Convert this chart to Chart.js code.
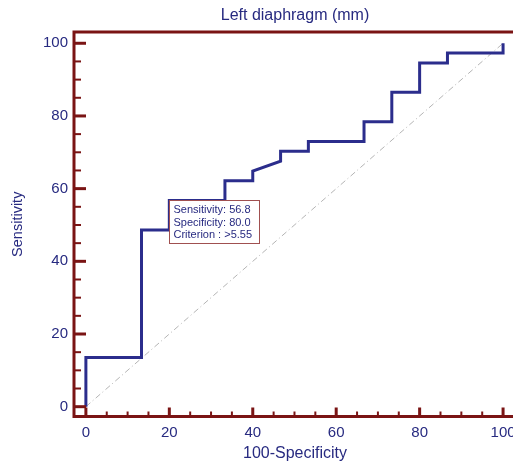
<!DOCTYPE html>
<html>
<head>
<meta charset="utf-8">
<script src="https://cdn.jsdelivr.net/npm/chart.js@4.4.1/dist/chart.umd.min.js"></script>
<style>
  html, body { margin: 0; padding: 0; background: #fff; overflow: hidden; }
  #wrap { width: 513px; height: 463px; overflow: hidden; }
  #roc { display: block; }
</style>
</head>
<body>
<div id="wrap"><canvas id="roc" width="520" height="463"></canvas></div>
<script>
// ROC curve points (100-Specificity, Sensitivity)
const fpr  = [0, 0, 13.33, 13.33, 20, 20, 33.33, 33.33, 40, 40, 46.67, 46.67, 53.33, 53.33,
              66.67, 66.67, 73.33, 73.33, 80, 80, 86.67, 86.67, 100, 100];
const sens = [0, 13.51, 13.51, 48.65, 48.65, 56.76, 56.76, 62.16, 62.16, 64.86, 67.57, 70.27, 70.27, 72.97,
              72.97, 78.38, 78.38, 86.49, 86.49, 94.59, 94.59, 97.30, 97.30, 100];
// reference diagonal
const diagX = [0, 100];
const diagY = [0, 100];

const xTicks = [0, 20, 40, 60, 80, 100];
const yTicks = [0, 20, 40, 60, 80, 100];
const minorStep = 5;

const chartTitle = 'Left diaphragm (mm)';
const xTitle = '100-Specificity';
const yTitle = 'Sensitivity';

// optimal cut-off
const cutSens = 56.8;
const cutSpec = 80.0;
const cutCrit = '>5.55';

const NAVY = '#272a80';
const FRAME = '#7a1414';
const FONT = '"Liberation Sans", Arial, sans-serif';

const framePlugin = {
    id: 'frame',
    afterDatasetsDraw(chart) {
        const { ctx, chartArea: a, scales: { x, y } } = chart;
        ctx.save();

        // minor + major ticks pointing inward
        ctx.strokeStyle = FRAME;
        ctx.lineCap = 'butt';
        for (let v = 0; v <= 100; v += minorStep) {
            const major = yTicks.includes(v);
            ctx.lineWidth = major ? 3 : 2;
            const py = y.getPixelForValue(v);
            ctx.beginPath();
            ctx.moveTo(a.left, py);
            ctx.lineTo(a.left + (major ? 12 : 7), py);
            ctx.stroke();
        }
        for (let v = 0; v <= 100; v += minorStep) {
            const major = xTicks.includes(v);
            ctx.lineWidth = major ? 3 : 2;
            const px = x.getPixelForValue(v);
            ctx.beginPath();
            ctx.moveTo(px, a.bottom);
            ctx.lineTo(px, a.bottom - (major ? 9 : 5));
            ctx.stroke();
        }

        // frame
        ctx.lineWidth = 3;
        ctx.strokeRect(a.left, a.top, a.right - a.left, a.bottom - a.top);

        // criterion box, top-left corner on the cut-off point
        const bx = Math.round(x.getPixelForValue(100 - cutSpec)) + 0.5;
        const by = Math.round(y.getPixelForValue(cutSens)) + 0.5;
        const lines = [
            'Sensitivity: ' + cutSens.toFixed(1),
            'Specificity: ' + cutSpec.toFixed(1),
            'Criterion : ' + cutCrit
        ];
        ctx.fillStyle = '#fff';
        ctx.fillRect(bx, by, 90, 43);
        ctx.lineWidth = 1;
        ctx.strokeStyle = '#a05050';
        ctx.strokeRect(bx, by, 90, 43);
        ctx.fillStyle = NAVY;
        ctx.font = '11px ' + FONT;
        ctx.textBaseline = 'middle';
        ctx.textAlign = 'left';
        lines.forEach((t, i) => ctx.fillText(t, bx + 4, by + 9.5 + i * 12.5));

        // chart title
        ctx.font = '16px ' + FONT;
        ctx.textAlign = 'center';
        ctx.fillText(chartTitle, (a.left + a.right) / 2, 16);
        ctx.restore();
    }
};

new Chart(document.getElementById('roc'), {
    type: 'scatter',
    data: {
        datasets: [
            {
                data: fpr.map((v, i) => ({ x: v, y: sens[i] })),
                showLine: true,
                borderColor: '#2b2d8c',
                borderWidth: 3,
                pointRadius: 0,
                tension: 0,
                order: 1
            },
            {
                data: diagX.map((v, i) => ({ x: v, y: diagY[i] })),
                showLine: true,
                borderColor: '#b4b4b4',
                borderWidth: 1,
                borderDash: [6, 3, 1, 3],
                pointRadius: 0,
                order: 2
            }
        ]
    },
    options: {
        responsive: false,
        animation: false,
        devicePixelRatio: 1,
        layout: { padding: { top: 32, right: 4, left: 0, bottom: 0 } },
        plugins: { legend: { display: false }, tooltip: { enabled: false }, title: { display: false } },
        scales: {
            x: {
                type: 'linear',
                min: -2.85,
                max: 103.1,
                afterBuildTicks: s => { s.ticks = xTicks.map(v => ({ value: v })); },
                afterFit: s => { s.height = 46.5; s.paddingLeft = 0; s.paddingRight = 0; },
                grid: { display: false, drawTicks: false },
                border: { display: false },
                ticks: { color: NAVY, font: { family: FONT, size: 15 }, padding: 7, maxRotation: 0 },
                title: { display: true, text: xTitle, color: NAVY, font: { family: FONT, size: 16 }, padding: { top: 0, bottom: 0 } }
            },
            y: {
                type: 'linear',
                min: -2.7,
                max: 103.1,
                afterBuildTicks: s => { s.ticks = yTicks.map(v => ({ value: v })); },
                afterFit: s => { s.width = 74; s.paddingTop = 0; s.paddingBottom = 0; },
                grid: { display: false, drawTicks: false },
                border: { display: false },
                ticks: { color: NAVY, font: { family: FONT, size: 15 }, padding: 6 },
                title: { display: true, text: yTitle, color: NAVY, font: { family: FONT, size: 14.5 }, padding: { top: 9, bottom: 0 } }
            }
        }
    },
    plugins: [framePlugin]
});
</script>
</body>
</html>
